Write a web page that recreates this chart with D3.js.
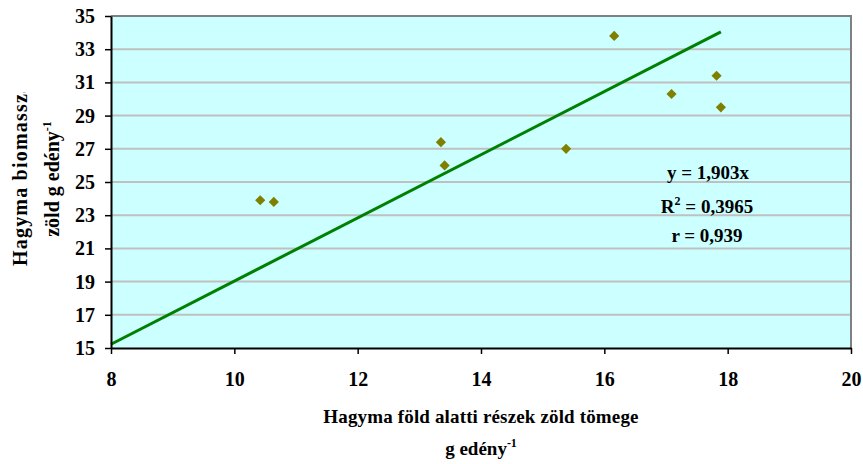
<!DOCTYPE html>
<html>
<head>
<meta charset="utf-8">
<script src="https://cdn.jsdelivr.net/npm/d3@7"></script>
<style>
  html, body { margin: 0; padding: 0; background: #ffffff; }
  svg text { font-family: "Liberation Serif", "Times New Roman", serif; font-weight: bold; fill: #000; }
</style>
</head>
<body>
<svg id="chart" width="863" height="464"></svg>
<script>
// ---- data ----
const xValues = [10.42, 10.64, 13.35, 13.41, 15.38, 16.16, 17.09, 17.82, 17.89];
const yValues = [23.9, 23.8, 27.4, 26.0, 27.0, 33.8, 30.3, 31.4, 29.5];
const xTicks = [8, 10, 12, 14, 16, 18, 20];
const yTicks = [15, 17, 19, 21, 23, 25, 27, 29, 31, 33, 35];
const trendSlope = 1.903;
const trendX = [8, 17.89];
const annotations = ["y = 1,903x", "R2 = 0,3965", "r = 0,939"];
const xTitle = "Hagyma föld alatti részek zöld tömege";
const xTitle2 = "g edény";
const yTitle1 = "Hagyma biomassza";
const yTitle2 = "zöld g edény";

// ---- layout ----
const svg = d3.select("#chart");
const L = 111, R = 851, T = 16, B = 348;
const x = d3.scaleLinear().domain([8, 20]).range([L, R]);
const y = d3.scaleLinear().domain([15, 35]).range([B, T]);

// plot background
svg.append("rect").attr("x", L).attr("y", T).attr("width", R - L).attr("height", B - T)
  .attr("fill", "#CCFFFF");

// gridlines
svg.append("g").selectAll("line").data(yTicks.filter(d => d > 15 && d < 35)).join("line")
  .attr("x1", L).attr("x2", R).attr("y1", d => y(d)).attr("y2", d => y(d))
  .attr("stroke", "#C0C0C0").attr("stroke-width", 2);

// top & right border
svg.append("path").attr("d", `M${L},${T}H${R}V${B}`).attr("fill", "none")
  .attr("stroke", "#808080").attr("stroke-width", 2);

// trend line
svg.append("line")
  .attr("x1", x(trendX[0])).attr("y1", y(trendSlope * trendX[0]))
  .attr("x2", x(trendX[1])).attr("y2", y(trendSlope * trendX[1]))
  .attr("stroke", "#008000").attr("stroke-width", 3);

// points
const sym = d3.symbol().type(d3.symbolSquare).size(52);
svg.append("g").selectAll("path").data(xValues.map((v, i) => [v, yValues[i]])).join("path")
  .attr("d", sym)
  .attr("transform", d => `translate(${x(d[0])},${y(d[1])}) rotate(45)`)
  .attr("fill", "#808000");

// axes
const xAxis = svg.append("g").attr("transform", `translate(0,${B})`)
  .call(d3.axisBottom(x).tickValues(xTicks).tickSize(6).tickPadding(18).tickSizeOuter(0));
const yAxis = svg.append("g").attr("transform", `translate(${L},0)`)
  .call(d3.axisLeft(y).tickValues(yTicks).tickSize(6).tickPadding(10).tickSizeOuter(0));
[xAxis, yAxis].forEach(a => {
  a.select(".domain").attr("stroke", "#000").attr("stroke-width", 2);
  a.selectAll(".tick line").attr("stroke", "#000").attr("stroke-width", 1.5);
  a.selectAll("text").attr("font-size", 20).attr("font-family", "Liberation Serif").attr("font-weight", "bold");
});
xAxis.selectAll("text").attr("dy", "0.71em");

// annotations
const ann = svg.append("g").attr("text-anchor", "middle").attr("font-size", 19);
ann.append("text").attr("x", 708).attr("y", 179).text(annotations[0]);
const r2 = ann.append("text").attr("x", 707).attr("y", 213);
r2.append("tspan").text("R");
r2.append("tspan").attr("font-size", 12).attr("dy", -8).text("2");
r2.append("tspan").attr("dy", 8).text(" = 0,3965");
ann.append("text").attr("x", 707).attr("y", 242).text(annotations[2]);

// x title
svg.append("text").attr("x", 481).attr("y", 423).attr("text-anchor", "middle")
  .attr("font-size", 19).attr("letter-spacing", 0.15).text(xTitle);
const xt2 = svg.append("text").attr("x", 481).attr("y", 455).attr("text-anchor", "middle").attr("font-size", 19);
xt2.append("tspan").text(xTitle2);
xt2.append("tspan").attr("font-size", 12).attr("dy", -8).text("-1");

// y title
svg.append("clipPath").attr("id", "yclip").append("rect")
  .attr("x", 0).attr("y", 92).attr("width", 40).attr("height", 300);
svg.append("g").attr("clip-path", "url(#yclip)")
  .append("text").attr("transform", "translate(27,266) rotate(-90)")
  .attr("text-anchor", "start").attr("font-size", 20).attr("letter-spacing", 1.2).text(yTitle1);
const yt2 = svg.append("text").attr("transform", "translate(59,179) rotate(-90)")
  .attr("text-anchor", "middle").attr("font-size", 20);
yt2.append("tspan").text(yTitle2);
yt2.append("tspan").attr("font-size", 12).attr("dy", -8).text("-1");
</script>
</body>
</html>
